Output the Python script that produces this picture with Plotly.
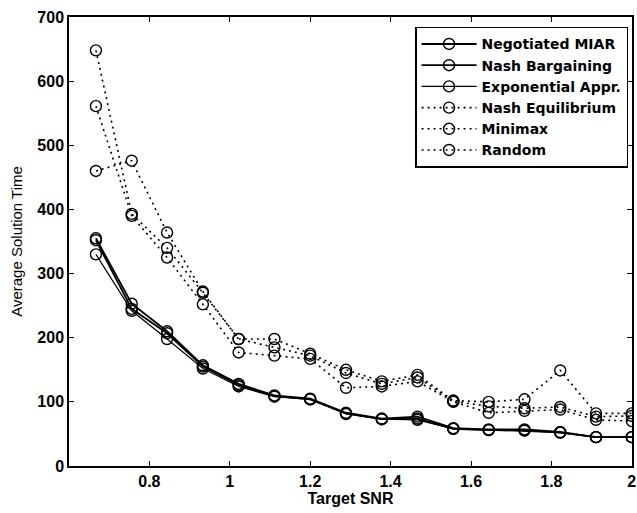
import plotly.graph_objects as go

snr = [0.667, 0.756, 0.844, 0.933, 1.022, 1.111, 1.2, 1.289,
       1.378, 1.467, 1.556, 1.644, 1.733, 1.822, 1.911, 2.0]

negotiated_miar = [355, 253, 210, 157, 128, 110, 105, 83, 74, 77, 59, 57, 57, 53, 45, 45]
nash_bargaining = [352, 245, 207, 155, 126, 109, 104, 82, 73, 74, 58, 56, 56, 52, 45, 45]
exponential_appr = [330, 242, 198, 152, 124, 108, 104, 81, 73, 72, 58, 56, 55, 52, 45, 45]
nash_equilibrium = [648, 393, 340, 270, 198, 185, 172, 145, 128, 138, 101, 93, 90, 92, 77, 78]
minimax = [561, 390, 325, 252, 177, 172, 167, 122, 124, 132, 100, 83, 86, 88, 72, 70]
random_alloc = [460, 476, 364, 272, 198, 198, 175, 150, 132, 142, 102, 100, 104, 149, 82, 82]

x_ticks = [0.8, 1.0, 1.2, 1.4, 1.6, 1.8, 2.0]
x_tick_labels = ["0.8", "1", "1.2", "1.4", "1.6", "1.8", "2"]
y_ticks = [0, 100, 200, 300, 400, 500, 600, 700]

series = [
    ("Negotiated MIAR", negotiated_miar, "solid", 1.8),
    ("Nash Bargaining", nash_bargaining, "solid", 1.8),
    ("Exponential Appr.", exponential_appr, "solid", 1.2),
    ("Nash Equilibrium", nash_equilibrium, "2px,4px", 1.6),
    ("Minimax", minimax, "2px,4px", 1.6),
    ("Random", random_alloc, "2px,4px", 1.6),
]

fig = go.Figure()
for name, vals, dash, w in series:
    fig.add_trace(go.Scatter(
        x=snr, y=vals, name=name, mode="lines+markers",
        line=dict(color="black", width=w, dash=dash),
        marker=dict(symbol="circle-open", size=11, color="black",
                    line=dict(color="black", width=1.4)),
    ))

font_family = "Liberation Sans, Arial, Helvetica, sans-serif"
legend_family = "DejaVu Sans, Liberation Sans, Arial, sans-serif"
fig.update_layout(
    width=637, height=513,
    margin=dict(l=69, r=1, t=17, b=47),
    paper_bgcolor="white", plot_bgcolor="white",
    font=dict(family=font_family, color="black"),
    showlegend=True,
    legend=dict(
        x=0.993, y=0.978, xanchor="right", yanchor="top",
        bgcolor="white", bordercolor="black", borderwidth=1.5,
        font=dict(size=14, family=legend_family, color="black", weight="bold"),
        itemwidth=55, tracegroupgap=0,
    ),
    xaxis=dict(
        range=[0.6, 2.0005], tickvals=x_ticks, ticktext=x_tick_labels,
        ticklabeloverflow="allow",
        showgrid=False, zeroline=False,
        showline=True, linecolor="black", linewidth=1.5, mirror="ticks",
        ticks="inside", ticklen=5, tickcolor="black", tickwidth=1.2,
        tickfont=dict(size=16, weight="bold"),
        title=dict(text="Target SNR", font=dict(size=16, weight="bold"), standoff=3),
    ),
    yaxis=dict(
        range=[0, 700], tickvals=y_ticks,
        showgrid=False, zeroline=False,
        showline=True, linecolor="black", linewidth=1.5, mirror="ticks",
        ticks="inside", ticklen=5, tickcolor="black", tickwidth=1.2,
        tickfont=dict(size=16, weight="bold"),
        title=dict(text="Average Solution Time", font=dict(size=15), standoff=11),
    ),
)

fig.write_html("out.html")
